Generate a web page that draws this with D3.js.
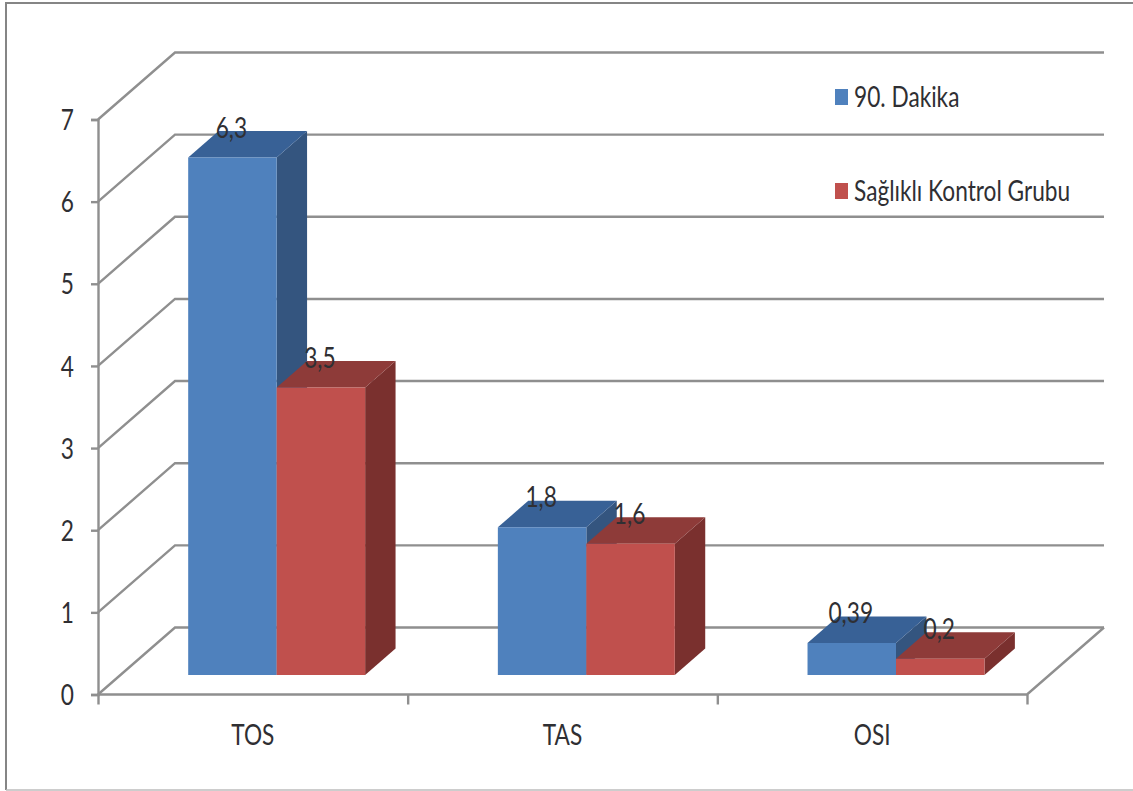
<!DOCTYPE html>
<html lang="tr">
<head>
<meta charset="utf-8">
<title>TOS, TAS ve OSI</title>
<script src="https://cdn.jsdelivr.net/npm/d3@7"></script>
<style>
  html, body { margin: 0; padding: 0; background: #fff; }
  svg { display: block; }
  text { font-family: Lato, "Open Sans", sans-serif; fill: #2f2f33; }
</style>
</head>
<body>
<svg id="chart" width="1133" height="791"></svg>
<script>
// Chart values
const categories = ["TOS", "TAS", "OSI"];
const seriesNames = ["90. Dakika", "Sağlıklı Kontrol Grubu"];
const dakika90 = [6.3, 1.8, 0.39];
const kontrol = [3.5, 1.6, 0.2];
const valueLabels90 = ["6,3", "1,8", "0,39"];
const valueLabelsKontrol = ["3,5", "1,6", "0,2"];
const yTicks = [0, 1, 2, 3, 4, 5, 6, 7];

// Colours: front, side and top face of each series
const faces = [
  { front: "#4f81bd", side: "#34557f", top: "#386196" },
  { front: "#c0504d", side: "#7a302e", top: "#8e3b39" }
];
const gridColor = "#8f8f8f";

const svg = d3.select("#chart");

// Outer frame of the chart area
svg.append("path")
  .attr("d", "M6,790 V3 H1133")
  .attr("fill", "none").attr("stroke", "#858585").attr("stroke-width", 2);
svg.append("path")
  .attr("d", "M6,790 H1133")
  .attr("fill", "none").attr("stroke", "#bdbdbd").attr("stroke-width", 1.5);

// Scales of the front plane
const y = d3.scaleLinear().domain([0, 7]).range([694.5, 119.5]);
const xGroup = d3.scaleBand().domain(categories).range([98, 1027]);
const xEdges = d3.scaleLinear().domain([0, categories.length]).range([98, 1027]);
const xBar = d3.scaleBand().domain([0, 1])
  .range([0, xGroup.bandwidth()]).paddingOuter(0.75).paddingInner(0);

// Oblique projection of the depth axis (0 = front plane, 1 = back wall)
const depthX = d3.scaleLinear().domain([0, 1]).range([0, 77]);
const depthY = d3.scaleLinear().domain([0, 1]).range([0, -67]);
const project = (px, v, depth) => [px + depthX(depth), y(v) + depthY(depth)];
const line = d3.line();

// Bars stand between these depths on the floor
const barDepthFront = 0.29;
const barDepthBack = 0.685;
const barShiftX = 1.5;

// Squeezes a text element horizontally around its anchor
const squeeze = 0.81;
const fontSize = 28;
const narrow = sel => sel.attr("transform", function () {
  const t = d3.select(this);
  const px = +t.attr("x") || 0, py = +t.attr("y") || 0;
  t.attr("x", 0).attr("y", 0);
  return `translate(${px},${py}) scale(${squeeze},1)`;
});

// Wall and floor grid
const grid = svg.append("g").attr("fill", "none")
  .attr("stroke", gridColor).attr("stroke-width", 2.4);
grid.selectAll("path.wall").data(yTicks).join("path").attr("class", "wall")
  .attr("d", t => line([
    project(98, t, 0),
    project(98, t, 1),
    project(1027, t, 1)
  ]));
grid.append("path").attr("d", line([
  project(98, 0, 0),
  project(1027, 0, 0),
  project(1027, 0, 1)
]));

// Value axis
const yAxis = svg.append("g")
  .attr("transform", "translate(98,0)")
  .call(d3.axisLeft(y).tickValues(yTicks).tickSize(7).tickPadding(17).tickFormat(d3.format("d")));

// Category axis: tick marks on group edges, labels in the band centres
const xTickAxis = svg.append("g")
  .attr("transform", `translate(0,${y(0)})`)
  .call(d3.axisBottom(xEdges).ticks(categories.length).tickValues(d3.range(categories.length + 1))
    .tickSize(10).tickFormat(""));
const xLabelAxis = svg.append("g")
  .attr("transform", `translate(0,${y(0)})`)
  .call(d3.axisBottom(xGroup).tickSize(0).tickPadding(30));

[yAxis, xTickAxis, xLabelAxis].forEach(a => {
  a.selectAll(".domain, .tick line")
    .attr("stroke", gridColor).attr("stroke-width", 2.4);
  a.selectAll("text").attr("font-size", fontSize).attr("font-family", null).attr("fill", null);
  a.attr("font-family", null);
});
xLabelAxis.select(".domain").remove();
xTickAxis.select(".domain").remove();
yAxis.selectAll("text").attr("dy", "0.36em").call(narrow);
xLabelAxis.selectAll("text").attr("dy", "0.72em").call(narrow);

// Bars: back-to-front within each group, blue before red
const bars = categories.flatMap((c, i) => [
  { cat: c, s: 0, v: dakika90[i], label: valueLabels90[i] },
  { cat: c, s: 1, v: kontrol[i], label: valueLabelsKontrol[i] }
]);

const barG = svg.append("g").selectAll("g").data(bars).join("g");
const corners = d => {
  const x0 = xGroup(d.cat) + xBar(d.s) + barShiftX;
  const x1 = x0 + xBar.bandwidth();
  return { x0, x1 };
};
barG.append("path").attr("fill", d => faces[d.s].side)
  .attr("d", d => {
    const { x1 } = corners(d);
    return line([
      project(x1, 0, barDepthFront), project(x1, 0, barDepthBack),
      project(x1, d.v, barDepthBack), project(x1, d.v, barDepthFront)
    ]) + "Z";
  });
barG.append("path").attr("fill", d => faces[d.s].top)
  .attr("d", d => {
    const { x0, x1 } = corners(d);
    return line([
      project(x0, d.v, barDepthFront), project(x0, d.v, barDepthBack),
      project(x1, d.v, barDepthBack), project(x1, d.v, barDepthFront)
    ]) + "Z";
  });
barG.append("path").attr("fill", d => faces[d.s].front)
  .attr("d", d => {
    const { x0, x1 } = corners(d);
    return line([
      project(x0, 0, barDepthFront), project(x1, 0, barDepthFront),
      project(x1, d.v, barDepthFront), project(x0, d.v, barDepthFront)
    ]) + "Z";
  });

// Value labels sit over the top face of each bar
svg.append("g").selectAll("text").data(bars).join("text")
  .attr("text-anchor", "middle").attr("dy", "0.36em").attr("font-size", fontSize)
  .attr("x", d => {
    const { x0, x1 } = corners(d);
    return project((x0 + x1) / 2, d.v, barDepthFront)[0] - 1;
  })
  .attr("y", d => project(0, d.v, barDepthFront)[1] - 30)
  .text(d => d.label)
  .call(narrow);

// Legend
const legendRows = [
  { name: seriesNames[0], color: faces[0].front, cy: 97 },
  { name: seriesNames[1], color: faces[1].front, cy: 191 }
];
const legend = svg.append("g").selectAll("g").data(legendRows).join("g");
legend.append("rect").attr("x", 835).attr("y", d => d.cy - 8)
  .attr("width", 13).attr("height", 16).attr("fill", d => d.color);
legend.append("text").attr("x", 854).attr("y", d => d.cy).attr("dy", "0.36em")
  .attr("font-size", fontSize).text(d => d.name).call(narrow);
</script>
</body>
</html>
